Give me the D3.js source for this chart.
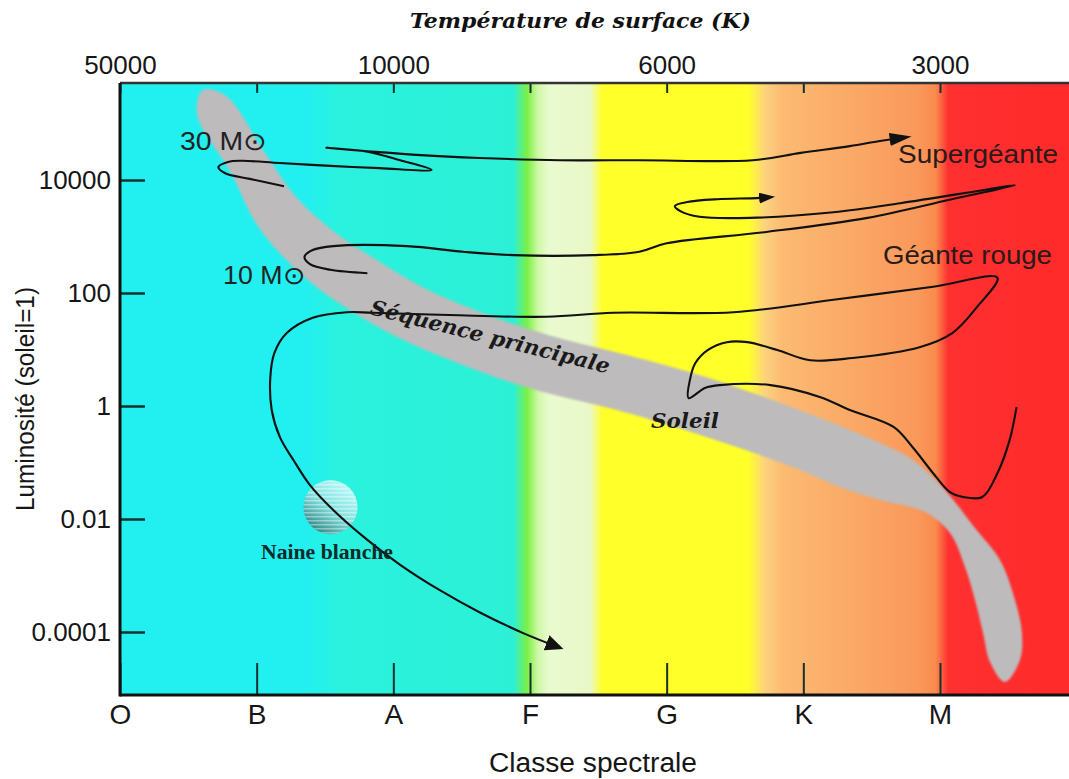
<!DOCTYPE html>
<html><head><meta charset="utf-8">
<script src="https://cdn.jsdelivr.net/npm/d3@7"></script>
<style>body{margin:0;background:#fff} svg{display:block}</style>
</head><body><svg id="c" width="1069" height="779"></svg>
<script>
// ---------- data ----------
const spectralClasses = ["O","B","A","F","G","K","M"];
const topTemperatures = ["50000","","10000","","6000","","3000"];
const luminosityTicks = [1e4, 1e2, 1, 1e-2, 1e-4];
const luminosityTickLabels = ["10000","100","1","0.01","0.0001"];

// main sequence region outline: [spectral class index, log10 L]
const mainSequence = [
[0.607,5.593],[0.776,5.487],[1.061,4.478],[1.295,3.681],[1.588,3.044],[1.866,2.602],
[2.210,2.106],[2.634,1.664],[3.132,1.257],[3.710,0.903],[4.310,0.496],[5.049,-0.142],
[5.510,-0.602],[5.802,-0.956],[6.036,-1.487],[6.256,-2.159],[6.439,-2.726],[6.549,-3.434],
[6.600,-4.018],[6.585,-4.496],[6.475,-4.885],[6.366,-4.531],[6.315,-4.018],[6.256,-3.434],
[6.183,-2.850],[6.073,-2.248],[5.890,-1.876],[5.561,-1.664],[5.268,-1.434],[4.902,-1.062],
[4.178,-0.460],[3.607,-0.053],[3.015,0.301],[2.488,0.743],[2.027,1.221],[1.646,1.752],
[1.332,2.319],[1.017,3.150],[0.812,4.124],[0.563,5.168]
];

// evolutionary tracks: [spectral class index, log10 L]
const track30 = [
[1.20,3.89],[0.95,4.02],[0.77,4.12],[0.72,4.23],[0.79,4.32],[0.89,4.34],[1.17,4.30],
[1.54,4.25],[1.90,4.21],[2.28,4.18],[2.05,4.35],[1.81,4.50],[1.51,4.57],[1.81,4.51],
[2.20,4.44],[2.63,4.39],[3.22,4.35],[3.80,4.35],[4.63,4.35],[4.98,4.48],[5.34,4.60],
[5.56,4.69],[5.76,4.76]
];
const track10 = [
[1.81,2.35],[1.54,2.41],[1.39,2.51],[1.35,2.64],[1.41,2.76],[1.56,2.83],[2.10,2.83],
[2.51,2.73],[2.88,2.67],[3.46,2.67],[3.80,2.73],[4.00,2.88],[4.73,3.08],[5.47,3.33],
[6.07,3.65],[6.55,3.91],[6.31,3.82],[5.71,3.59],[5.22,3.43],[4.61,3.33],[4.24,3.35],
[4.10,3.45],[4.06,3.54],[4.15,3.61],[4.37,3.66],[4.66,3.68],[4.77,3.70]
];
const trackSun = [
[6.56,-0.02],[6.51,-0.60],[6.42,-1.19],[6.31,-1.61],[6.17,-1.61],[6.07,-1.52],[5.95,-1.19],
[5.80,-0.73],[5.66,-0.37],[5.34,-0.07],[5.12,0.16],[4.76,0.37],[4.39,0.37],[4.28,0.32],
[4.16,0.14],[4.17,0.46],[4.21,0.76],[4.30,0.99],[4.44,1.13],[4.59,1.13],[4.81,0.99],
[5.05,0.81],[5.36,0.85],[5.85,1.04],[6.09,1.29],[6.27,1.75],[6.42,2.27],[5.95,2.11],
[5.22,1.88],[4.49,1.66],[3.61,1.65],[3.12,1.58],[2.41,1.61],[1.85,1.65],[1.66,1.66],
[1.41,1.56],[1.22,1.29],[1.13,0.94],[1.10,0.51],[1.11,-0.07],[1.17,-0.55],[1.27,-0.96],
[1.39,-1.40],[1.56,-1.84],[1.81,-2.37],[2.05,-2.81],[2.34,-3.26],[2.63,-3.65],[2.95,-4.02],
[3.22,-4.28]
];
const whiteDwarf = [1.54, -1.79];

// background colour by spectral class index
const bgStopClass = [0, 1.35, 1.6, 2.88, 2.98, 3.06, 3.14, 3.44, 3.53, 4.6, 4.72, 4.85, 5.85, 5.97, 6.06, 6.944];
const bgStopColor = ["#22f0f0","#22f0f0","#2af2de","#2cf0d6","#7cf044","#d0f8a8","#eafad0","#eaf8c8",
                     "#ffff2a","#ffff2a","#fcd27e","#fbba72","#f9985a","#f98a4c","#ff3030","#ff2a2a"];

// ---------- drawing ----------
const svg = d3.select("#c");
const P = {left:120, right:1069, top:83, bottom:695};
const x = d3.scaleLinear().domain([0, 6.944]).range([P.left, P.right]);
const y = d3.scaleLog().domain([1e-4, 1e4]).range([632, 180]);
const yl = v => y(Math.pow(10, v));

const defs = svg.append("defs");
const g = defs.append("linearGradient").attr("id","bg").attr("gradientUnits","userSpaceOnUse")
  .attr("x1",P.left).attr("x2",P.right).attr("y1",0).attr("y2",0);
bgStopClass.forEach((c,i)=>g.append("stop")
  .attr("offset",(x(c)-P.left)/(P.right-P.left)).attr("stop-color",bgStopColor[i]));

defs.append("clipPath").attr("id","clip").append("rect")
  .attr("x",P.left).attr("y",P.top).attr("width",P.right-P.left).attr("height",P.bottom-P.top);

defs.append("filter").attr("id","soft").attr("x","-10%").attr("y","-10%").attr("width","120%").attr("height","120%")
  .append("feGaussianBlur").attr("stdDeviation",1.3);

const wdg = defs.append("linearGradient").attr("id","wd").attr("x1","0.8").attr("y1","0.1").attr("x2","0.2").attr("y2","0.9");
wdg.append("stop").attr("offset",0).attr("stop-color","#c8fafa");
wdg.append("stop").attr("offset",0.5).attr("stop-color","#8ee0e0");
wdg.append("stop").attr("offset",1).attr("stop-color","#3a8282");
const pat = defs.append("pattern").attr("id","stripes").attr("patternUnits","userSpaceOnUse")
  .attr("width",8).attr("height",4);
pat.append("rect").attr("width",8).attr("height",1.5).attr("fill","#ffffff").attr("opacity",0.4);

function marker(id, len, wid){
  defs.append("marker").attr("id",id).attr("viewBox","0 0 10 10").attr("refX",8).attr("refY",5)
    .attr("markerUnits","userSpaceOnUse").attr("markerWidth",len).attr("markerHeight",wid)
    .attr("orient","auto").attr("preserveAspectRatio","none")
    .append("path").attr("d","M0,0 L10,5 L0,10 Z").attr("fill","#111");
}
marker("a30", 22, 13); marker("a10", 16, 11); marker("aSun", 18, 16);

const plotG = svg.append("g").attr("clip-path","url(#clip)");
plotG.append("rect").attr("x",P.left).attr("y",P.top).attr("width",P.right-P.left)
  .attr("height",P.bottom-P.top).attr("fill","url(#bg)");

plotG.append("path").datum(mainSequence)
  .attr("d", d3.line().x(d=>x(d[0])).y(d=>yl(d[1])).curve(d3.curveCatmullRomClosed.alpha(0.5)))
  .attr("fill","#bdbbbb").attr("filter","url(#soft)");

// white dwarf
plotG.append("circle").attr("cx",x(whiteDwarf[0])).attr("cy",yl(whiteDwarf[1])).attr("r",27)
  .attr("fill","url(#wd)").attr("opacity",0.9);
plotG.append("circle").attr("cx",x(whiteDwarf[0])).attr("cy",yl(whiteDwarf[1])).attr("r",27)
  .attr("fill","url(#stripes)");

const trackLine = d3.line().x(d=>x(d[0])).y(d=>yl(d[1])).curve(d3.curveCatmullRom.alpha(0.5));
[[track30,"a30"],[track10,"a10"],[trackSun,"aSun"]].forEach(([t,m])=>{
  plotG.append("path").datum(t).attr("d",trackLine).attr("fill","none").attr("stroke","#111")
    .attr("stroke-width",2.1).attr("stroke-linejoin","round").attr("marker-end",`url(#${m})`);
});

// annotations
const sans = "'Liberation Sans', Arial, sans-serif";
const serifBI = "'DejaVu Serif', serif";
function label(txt, px, py, opts){
  const t = svg.append("text").attr("x",px).attr("y",py).text(txt)
    .attr("font-family",opts.family||sans).attr("font-size",opts.size)
    .attr("fill",opts.fill||"#1a1a1a");
  if(opts.bold) t.attr("font-weight","bold");
  if(opts.italic) t.attr("font-style","italic");
  if(opts.len) t.attr("textLength",opts.len).attr("lengthAdjust","spacingAndGlyphs");
  if(opts.anchor) t.attr("text-anchor",opts.anchor);
  if(opts.rotate!==undefined) t.attr("transform",`rotate(${opts.rotate},${px},${py})`);
  return t;
}
label("30 M\u2299", 180, 150, {size:25, len:87, fill:"#222"});
label("10 M\u2299", 223, 284, {size:25, len:82, fill:"#222"});
label("Supergéante", 898, 163, {size:25, len:160, fill:"#2a1a1a"});
label("Géante rouge", 883, 264, {size:25, len:169, fill:"#2a1a1a"});
label("Séquence principale", 369, 314, {size:21, len:246, family:serifBI, bold:true, italic:true, rotate:14});
label("Soleil", 651, 428, {size:21, len:68, family:serifBI, bold:true, italic:true});
label("Naine blanche", 261, 559, {size:20, len:132, family:"'Liberation Serif', serif", bold:true, fill:"#0f2a2a"});

// axes
const axG = svg.append("g");
const axBottom = axG.append("g").attr("transform",`translate(0,${P.bottom})`)
  .call(d3.axisBottom(x).tickValues(d3.range(7)).tickFormat(i=>spectralClasses[i])
    .tickSizeInner(-32).tickSizeOuter(0).tickPadding(9));
const axTop = axG.append("g").attr("transform",`translate(0,${P.top})`)
  .call(d3.axisTop(x).tickValues(d3.range(7)).tickFormat(i=>topTemperatures[i])
    .tickSizeInner(-10).tickSizeOuter(0).tickPadding(9));
const axLeft = axG.append("g").attr("transform",`translate(${P.left},0)`)
  .call(d3.axisLeft(y).tickValues(luminosityTicks).tickFormat((d,i)=>luminosityTickLabels[i])
    .tickSizeInner(-25).tickSizeOuter(0).tickPadding(9));
[axBottom, axTop, axLeft].forEach(a=>{
  a.select(".domain").remove();
  a.selectAll("line").attr("stroke","#16302e").attr("stroke-width",2);
  a.selectAll("text").attr("font-family",sans).attr("font-size",26).attr("fill","#161616");
});
axBottom.selectAll("text").attr("font-size",28);
axLeft.selectAll("line").attr("stroke-width",2.5);
axG.append("line").attr("x1",P.left).attr("x2",P.right).attr("y1",P.bottom).attr("y2",P.bottom)
  .attr("stroke","#111").attr("stroke-width",3);
axG.append("line").attr("x1",P.left).attr("x2",P.right).attr("y1",P.top).attr("y2",P.top)
  .attr("stroke","#333").attr("stroke-width",2.5);
axG.append("line").attr("x1",P.left).attr("x2",P.left).attr("y1",P.top).attr("y2",P.bottom+1.5)
  .attr("stroke","#111").attr("stroke-width",3);

label("Température de surface (K)", 410, 28, {size:21, len:341, family:serifBI, bold:true, italic:true, fill:"#111"});
label("Classe spectrale", 593, 772, {size:27, len:208, anchor:"middle", fill:"#161616"});
label("Luminosité (soleil=1)", 34, 399, {size:25, len:224, anchor:"middle", rotate:-90, fill:"#161616"});
</script></body></html>
